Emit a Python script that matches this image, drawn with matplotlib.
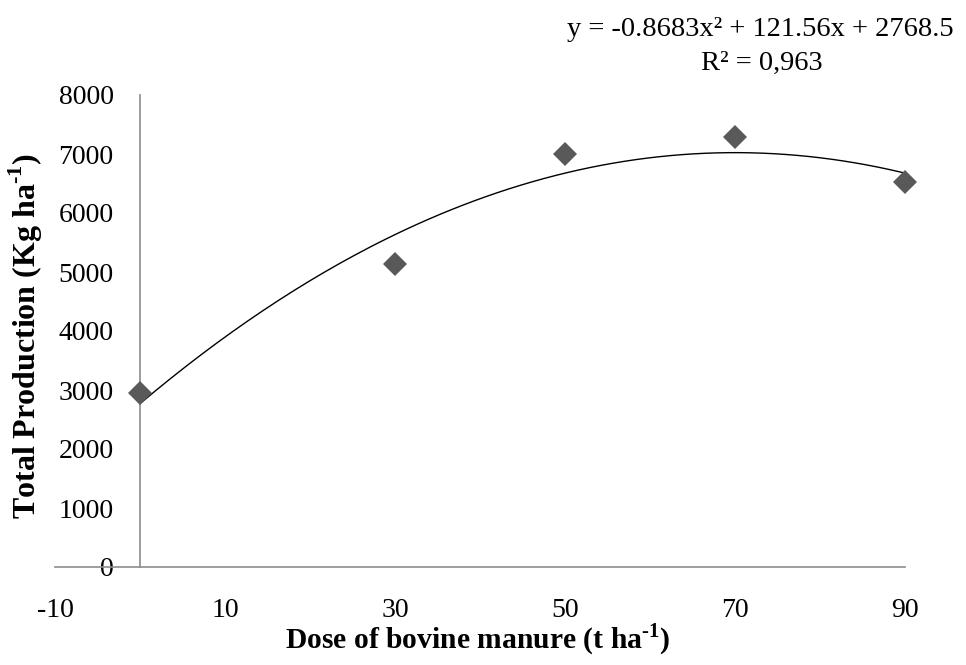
import matplotlib
matplotlib.use("Agg")
import matplotlib.pyplot as plt
import numpy as np

# data
doses = [0, 30, 50, 70, 90]
production = [2950, 5130, 7000, 7290, 6530]
# fitted quadratic shown on the chart: a*x^2 + b*x + c
fit_coef = [-0.8683, 121.56, 2768.5]
x_ticks = [-10, 10, 30, 50, 70, 90]
y_ticks = [0, 1000, 2000, 3000, 4000, 5000, 6000, 7000, 8000]

plt.rcParams['font.family'] = ['Liberation Serif', 'DejaVu Serif']
plt.rcParams['axes.unicode_minus'] = False
plt.rcParams['mathtext.fontset'] = 'custom'
plt.rcParams['mathtext.rm'] = 'Liberation Serif:bold'
plt.rcParams['mathtext.bf'] = 'Liberation Serif:bold'

fig = plt.figure(figsize=(9.66, 6.65), dpi=100)
ax = fig.add_axes([55/966, 98/665, 850/966, 472/665])

# trend line
xs = np.linspace(min(doses), max(doses), 200)
ax.plot(xs, np.polyval(fit_coef, xs), color='black', lw=1.0, zorder=2)

ax.plot(doses, production, 'D', color='#595959', markersize=12.5,
        markeredgewidth=0, zorder=3, clip_on=False)

ax.set_xlim(-10, 90)
ax.set_ylim(0, 8000)
ax.set_xticks(x_ticks)
ax.set_yticks(y_ticks)

# y axis crosses at x = 0, as in the spreadsheet chart
ax.spines['left'].set_position(('data', 0))
ax.spines['right'].set_visible(False)
ax.spines['top'].set_visible(False)
for s in ['left', 'bottom']:
    ax.spines[s].set_color('#8c8c8c')
    ax.spines[s].set_linewidth(1.2)

ax.tick_params(axis='y', length=0, pad=19, labelsize=20)
ax.tick_params(axis='x', length=0, pad=22, labelsize=20)

fig.text(478/966, 1 - 640/665, r'Dose of bovine manure (t ha$^{\text{-}1}$)',
         fontsize=21.3, fontweight='bold', ha='center', va='center')
fig.text(26/966, 1 - 336/665, r'Total Production (Kg ha$^{\text{-}1}$)',
         fontsize=23, fontweight='bold', ha='center', va='center',
         rotation=90)

fig.text(760/966, 1 - 29/665, 'y = -0.8683x² + 121.56x + 2768.5',
         ha='center', va='center', fontsize=20.5)
fig.text(762/966, 1 - 63/665, 'R² = 0,963',
         ha='center', va='center', fontsize=20.5)

fig.savefig('out.png', dpi=100)
